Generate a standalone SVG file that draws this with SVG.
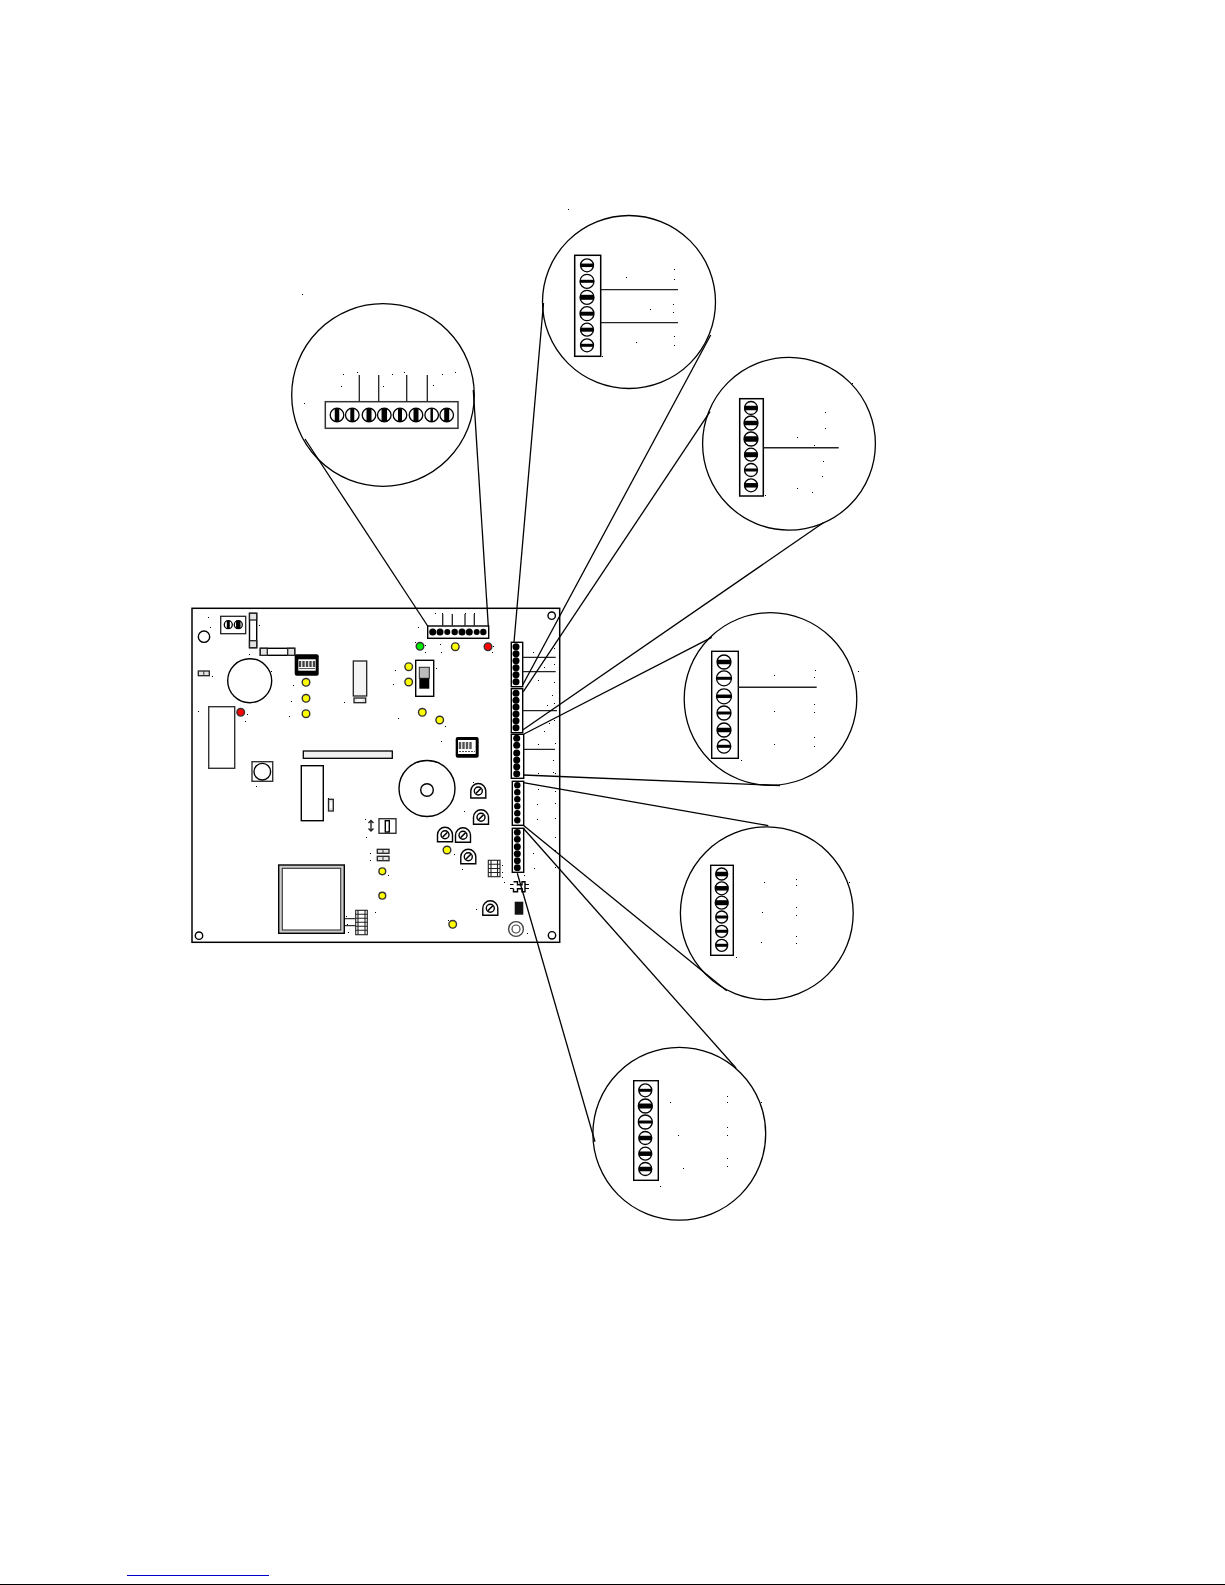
<svg xmlns="http://www.w3.org/2000/svg" width="1225" height="1585" viewBox="0 0 1225 1585">
<style>
.o{fill:none;stroke:#000;stroke-width:1.4}
.w{fill:#fff;stroke:#000;stroke-width:1.4}
.g{fill:#e4e4e4;stroke:#222;stroke-width:1.3}
.c{fill:none;stroke:#000;stroke-width:1.3}
.wire{fill:none;stroke:#222;stroke-width:1.3}
.con{fill:none;stroke:#000;stroke-width:1.3}
.sc{fill:#fff;stroke:#000;stroke-width:1.3}
.bar{stroke:#000;fill:none}
.d{fill:#000}
.y{fill:#ff0;stroke:#333;stroke-width:1.4}
.r{fill:#f00;stroke:#333;stroke-width:1.4}
.gr{fill:#0e0;stroke:#333;stroke-width:1.4}
.slash{stroke:#000;stroke-width:1.6;fill:none}
.grid{fill:none;stroke:#222;stroke-width:1.1}
</style>
<defs>
<g id="pot"><path class="w" d="M-7.5 7V0A7.5 7.5 0 0 1 7.5 0V7Z"/><circle class="o" r="4"/><path class="slash" d="M-2.5 2.5L2.5-2.5"/></g>
</defs>
<g id="board">
<rect class="o" x="192" y="608.300" width="367.700" height="334" style="stroke-width:1.500"/>
<circle class="o" cx="204" cy="636.700" r="5.700"/>
<circle class="o" cx="551.700" cy="615.700" r="3.700"/>
<circle class="o" cx="199" cy="935.700" r="3.700"/>
<circle class="o" cx="552" cy="935.300" r="3.700"/>
</g>
<g id="power-terminal">
<rect class="g" x="220.700" y="616.300" width="25" height="17.400" style="fill:#fff"/>
<circle class="sc" cx="228.300" cy="624.700" r="4"/><path class="bar" stroke-width="3" d="M228.300 620.700v8"/>
<circle class="sc" cx="238.300" cy="624.700" r="4"/><path class="bar" stroke-width="4.500" d="M238.300 620.700v8"/>
</g>
<g id="fuse-vertical">
<rect class="w" x="249.500" y="613.300" width="7.200" height="34.400"/>
<rect class="g" x="249.500" y="613.300" width="7.200" height="6.700"/>
<rect class="g" x="249.500" y="640.700" width="7.200" height="7"/>
</g>
<g id="fuse-horizontal">
<rect class="w" x="260.300" y="648.300" width="34.400" height="7"/>
<rect class="g" x="260.300" y="648.300" width="7" height="7"/>
<rect class="g" x="287.700" y="648.300" width="7" height="7"/>
</g>
<g id="dip-a">
<rect x="294.700" y="654.300" width="24" height="21.400" rx="2" fill="#000"/>
<rect x="298.300" y="659.300" width="17.400" height="11.400" fill="#fff"/>
<path d="M300 661v6M303.500 661v6M307 661v6M310.500 661v6M314 661v6" stroke="#444" stroke-width="2.400" fill="none"/>
<path d="M299 668.500h16" stroke="#555" stroke-width="1" fill="none"/>
</g>
<g id="capacitor"><circle class="o" cx="249.700" cy="680.700" r="22"/></g>
<g id="small-part-a"><rect class="g" x="198.300" y="671" width="11" height="4.700"/><path d="M203.800 671v4.700" stroke="#333" fill="none"/></g>
<g id="leds">
<circle class="y" cx="306" cy="682.300" r="3.800"/>
<circle class="y" cx="306" cy="698.300" r="3.800"/>
<circle class="y" cx="306" cy="713.700" r="3.800"/>
<circle class="r" cx="240.700" cy="712.300" r="3.800"/>
<circle class="gr" cx="420" cy="646.300" r="3.800"/>
<circle class="y" cx="455.300" cy="646.700" r="3.800"/>
<circle class="r" cx="488" cy="646.700" r="3.800"/>
<circle class="y" cx="408.700" cy="666.700" r="3.800"/>
<circle class="y" cx="408.700" cy="682" r="3.800"/>
<circle class="y" cx="422.300" cy="712.300" r="3.800"/>
<circle class="y" cx="439.700" cy="720" r="3.800"/>
<circle class="y" cx="382.300" cy="871.300" r="3.400"/>
<circle class="y" cx="382.300" cy="895.700" r="3.400"/>
<circle class="y" cx="447" cy="850" r="3.800"/>
<circle class="y" cx="452.700" cy="924.300" r="3.800"/>
</g>
<g id="chip-left"><rect class="o" x="208.700" y="706.700" width="26" height="61.600" style="stroke:#333"/></g>
<g id="relay">
<rect class="g" x="353.300" y="661" width="13.400" height="35" style="fill:#f4f4f4"/>
<rect class="g" x="354" y="698" width="11.700" height="4.700"/>
<rect x="356.500" y="699.300" width="6" height="2" fill="#fff"/>
</g>
<g id="header-bar"><rect class="g" x="303.300" y="751" width="89" height="7.300" style="stroke:#000;fill:#f0f0f0"/></g>
<g id="button">
<rect class="w" x="252" y="761.700" width="20.700" height="19.600" style="stroke:#333"/>
<circle class="o" cx="262.300" cy="771.700" r="8.300"/>
</g>
<g id="chip-center"><rect class="o" x="301.300" y="765.700" width="22" height="55"/></g>
<g id="small-part-b"><rect class="g" x="328.500" y="799.300" width="4.800" height="11.700"/><rect x="330" y="802" width="2" height="6" fill="#fff"/></g>
<g id="transformer">
<rect x="278.700" y="865" width="65.600" height="68.300" fill="#ccc" stroke="#000" stroke-width="1.400"/>
<rect x="282.300" y="868.300" width="58.400" height="61.700" fill="#fff" stroke="#333" stroke-width="1.100"/>
</g>
<g id="comb-a">
<path d="M345 918.700h10.700M345 925.700h10.700" stroke="#000" fill="none"/>
<rect class="grid" x="355.700" y="910.300" width="11.600" height="24.400"/>
<path class="grid" d="M358 910.300v24.400M365 910.300v24.400M355.700 914.300h11.600M355.700 918.300h11.600M355.700 922.300h11.600M355.700 926.300h11.600M355.700 930.300h11.600"/>
</g>
<g id="slide-switch">
<rect class="w" x="415.700" y="660.300" width="18" height="36"/>
<rect x="419.300" y="667.300" width="10" height="11" fill="#bbb" stroke="#222"/>
<rect x="419.300" y="678.300" width="10" height="10.400" fill="#000"/>
</g>
<g id="dip-b">
<rect x="455.700" y="737" width="23" height="20.700" rx="2" fill="#000"/>
<rect x="458" y="740" width="17.700" height="14" fill="#fff"/>
<path d="M460 742v7M463.500 742v7M467 742v7M470.500 742v7" stroke="#555" stroke-width="2.400" fill="none"/>
<path d="M459 751.500h16" stroke="#555" stroke-width="1" stroke-dasharray="2 1" fill="none"/>
</g>
<g id="toroid">
<circle class="o" cx="427" cy="788.500" r="28"/>
<circle class="o" cx="427" cy="790" r="6.300"/>
</g>
<g id="trimpots">
<use href="#pot" x="478.300" y="791"/>
<use href="#pot" x="481" y="817.300"/>
<use href="#pot" x="445" y="834.700"/>
<use href="#pot" x="463" y="835.300"/>
<use href="#pot" x="468.300" y="856.700"/>
<use href="#pot" x="490.300" y="908.300"/>
</g>
<g id="arrow-switch">
<path d="M371 820.500v10.500M368.500 823l2.500-2.500 2.500 2.500M368.500 828.500l2.500 2.500 2.500-2.500" fill="none" stroke="#222" stroke-width="1.400"/>
<rect class="w" x="379" y="818.700" width="17" height="14.600" style="stroke:#333"/>
<rect class="o" x="385.300" y="820.700" width="4" height="11.300"/>
</g>
<g id="jumpers">
<rect class="g" x="377.300" y="849.300" width="11.700" height="4"/>
<rect class="g" x="377.300" y="856.300" width="11.700" height="4.400"/>
<path d="M383 849.300v4M383 856.300v4.400" stroke="#333" fill="none"/>
</g>
<g id="comb-b">
<rect class="grid" x="488.300" y="860.300" width="11.700" height="16.400"/>
<path class="grid" d="M491 860.300v16.400M497.500 860.300v16.400M488.300 864.300h11.700M488.300 868.500h11.700M488.300 872.500h11.700"/>
</g>
<g id="ic">
<path class="o" d="M513.500 881.700h4v3h4.500v-3h3v10h-3v-3h-4.500v3h-4v-3"/>
<path d="M510 884.500h3.500M510 888.500h3.500M525 884.500h4M525 888.500h4" stroke="#000" fill="none"/>
</g>
<g id="black-part"><rect x="514.700" y="901.700" width="8.600" height="13" fill="#111"/></g>
<g id="ring">
<circle cx="516" cy="929" r="7.400" fill="#fff" stroke="#444" stroke-width="1.400"/>
<circle cx="516" cy="929" r="4" fill="#fff" stroke="#444" stroke-width="1.200"/>
</g>
<g id="board-terminals">
<rect class="w" x="427.700" y="626" width="61" height="12.300"/>
<rect class="w" x="511.300" y="642.300" width="11.400" height="44.400"/>
<rect class="w" x="511.300" y="688.700" width="11.400" height="44"/>
<rect class="w" x="511.300" y="734.300" width="12.400" height="44"/>
<rect class="w" x="512.300" y="781.300" width="11.400" height="44"/>
<rect class="w" x="512.300" y="828.300" width="11.400" height="44"/>
<g class="d">
<circle cx="432.700" cy="632" r="3.500"/><circle cx="440" cy="632" r="3.500"/><circle cx="447.300" cy="632" r="3"/><circle cx="454.700" cy="632" r="3.200"/><circle cx="462" cy="632" r="3.500"/><circle cx="469.300" cy="632" r="3.500"/><circle cx="476.700" cy="632" r="3"/><circle cx="483.300" cy="632" r="3.200"/>
<circle cx="516" cy="646.700" r="3.500"/><circle cx="516" cy="653.700" r="3.500"/><circle cx="516" cy="660.700" r="3.500"/><circle cx="516" cy="667.700" r="3.500"/><circle cx="516" cy="674.700" r="3.500"/><circle cx="516" cy="681.700" r="3.500"/>
<circle cx="516" cy="693.300" r="3.500"/><circle cx="516" cy="700.200" r="3.500"/><circle cx="516" cy="707" r="3.500"/><circle cx="516" cy="714" r="3.500"/><circle cx="516" cy="720.700" r="3.500"/><circle cx="516" cy="727.700" r="3.500"/>
<circle cx="516.700" cy="738.300" r="3.500"/><circle cx="516.700" cy="745.300" r="3.500"/><circle cx="516.700" cy="753" r="3.500"/><circle cx="516.700" cy="760" r="3.500"/><circle cx="516.700" cy="766.700" r="3.500"/><circle cx="516.700" cy="773.700" r="3.500"/>
<circle cx="517.300" cy="785.300" r="3.200"/><circle cx="517.300" cy="792.300" r="3.200"/><circle cx="517.300" cy="799.300" r="3.200"/><circle cx="517.300" cy="806.300" r="3.200"/><circle cx="517.300" cy="813.300" r="3.200"/><circle cx="517.300" cy="820.300" r="3.200"/>
<circle cx="517.300" cy="832.300" r="3.400"/><circle cx="517.300" cy="839.300" r="3.400"/><circle cx="517.300" cy="846.700" r="3.500"/><circle cx="517.300" cy="853.700" r="3.500"/><circle cx="517.300" cy="860.700" r="3.400"/><circle cx="517.300" cy="867.700" r="3.400"/>
</g>
</g>
<g id="callout-a">
<circle class="c" cx="383" cy="395" r="91.300"/>
<rect class="w" x="325.300" y="401.700" width="132.700" height="26.600" style="stroke:#333;stroke-width:1.500"/>
<circle class="sc" cx="337" cy="415" r="6.800"/><path class="bar" stroke-width="4.500" d="M337 408.200v13.600"/>
<circle class="sc" cx="352.300" cy="415" r="6.800"/><path class="bar" stroke-width="4" d="M352.300 408.200v13.600"/>
<circle class="sc" cx="369" cy="415" r="6.800"/><path class="bar" stroke-width="5" d="M369 408.200v13.600"/>
<circle class="sc" cx="384.300" cy="415" r="6.800"/><path class="bar" stroke-width="5.500" d="M384.300 408.200v13.600"/>
<circle class="sc" cx="400" cy="415" r="6.800"/><path class="bar" stroke-width="4" d="M400 408.200v13.600"/>
<circle class="sc" cx="416" cy="415" r="6.800"/><path class="bar" stroke-width="5" d="M416 408.200v13.600"/>
<circle class="sc" cx="431.700" cy="415" r="6.800"/><path class="bar" stroke-width="2.500" d="M431.700 408.200v13.600"/>
<circle class="sc" cx="446.700" cy="415" r="6.800"/><path class="bar" stroke-width="5" d="M446.700 408.200v13.600"/>
</g>
<g id="callout-b">
<circle class="c" cx="629" cy="302" r="86.500"/>
<rect class="w" x="574.700" y="255.300" width="26" height="101" style="stroke-width:1.500"/>
<circle class="sc" cx="587" cy="265.300" r="6.500"/><path class="bar" stroke-width="3.500" d="M580.500 265.300h13"/>
<circle class="sc" cx="587" cy="281.300" r="7"/><path class="bar" stroke-width="3" d="M580 281.300h14"/>
<circle class="sc" cx="587" cy="297.300" r="7"/><path class="bar" stroke-width="5" d="M580 297.300h14"/>
<circle class="sc" cx="587" cy="313.700" r="7"/><path class="bar" stroke-width="4" d="M580 313.700h14"/>
<circle class="sc" cx="587" cy="329.700" r="6.500"/><path class="bar" stroke-width="4" d="M580.500 329.700h13"/>
<circle class="sc" cx="587" cy="345.300" r="6.500"/><path class="bar" stroke-width="3" d="M580.500 345.300h13"/>
</g>
<g id="callout-c">
<circle class="c" cx="789" cy="443.700" r="86.400"/>
<rect class="w" x="739.700" y="398.700" width="23.600" height="97.300" style="stroke-width:1.500"/>
<circle class="sc" cx="751" cy="408" r="6.500"/><path class="bar" stroke-width="4.500" d="M744.500 408h13"/>
<circle class="sc" cx="751" cy="423" r="7"/><path class="bar" stroke-width="4.500" d="M744 423h14"/>
<circle class="sc" cx="751" cy="439" r="7"/><path class="bar" stroke-width="5.500" d="M744 439h14"/>
<circle class="sc" cx="751" cy="454.700" r="6.500"/><path class="bar" stroke-width="5" d="M744.500 454.700h13"/>
<circle class="sc" cx="751" cy="470" r="6.500"/><path class="bar" stroke-width="3" d="M744.500 470h13"/>
<circle class="sc" cx="751" cy="485.300" r="6.500"/><path class="bar" stroke-width="4.500" d="M744.500 485.300h13"/>
</g>
<g id="callout-d">
<circle class="c" cx="770.500" cy="699" r="86.300"/>
<rect class="w" x="711.700" y="651.300" width="26.600" height="107"/>
<circle class="sc" cx="724" cy="662" r="7"/><path class="bar" stroke-width="4.500" d="M717 662h14"/>
<circle class="sc" cx="724" cy="678.300" r="7.500"/><path class="bar" stroke-width="3" d="M716.500 678.300h15"/>
<circle class="sc" cx="724" cy="696.300" r="7.500"/><path class="bar" stroke-width="3.500" d="M716.500 696.300h15"/>
<circle class="sc" cx="724" cy="713" r="7"/><path class="bar" stroke-width="3" d="M717 713h14"/>
<circle class="sc" cx="724" cy="730" r="7"/><path class="bar" stroke-width="4.500" d="M717 730h14"/>
<circle class="sc" cx="724" cy="746.300" r="6.800"/><path class="bar" stroke-width="3" d="M717 746.300h14"/>
</g>
<g id="callout-e">
<circle class="c" cx="766.800" cy="913.300" r="86.400"/>
<rect class="w" x="710.700" y="865.300" width="22.600" height="90"/>
<circle class="sc" cx="721.700" cy="874" r="6"/><path class="bar" stroke-width="4.500" d="M715.700 874h12"/>
<circle class="sc" cx="721.700" cy="888.300" r="6.500"/><path class="bar" stroke-width="4.500" d="M715.200 888.300h13"/>
<circle class="sc" cx="721.700" cy="902.700" r="6.500"/><path class="bar" stroke-width="5" d="M715.200 902.700h13"/>
<circle class="sc" cx="721.700" cy="917" r="6"/><path class="bar" stroke-width="3" d="M715.700 917h12"/>
<circle class="sc" cx="721.700" cy="931.300" r="6"/><path class="bar" stroke-width="3" d="M715.700 931.300h12"/>
<circle class="sc" cx="721.700" cy="945.300" r="6"/><path class="bar" stroke-width="3" d="M715.700 945.300h12"/>
</g>
<g id="callout-f">
<circle class="c" cx="679.300" cy="1133.800" r="86.400"/>
<rect class="w" x="633.700" y="1080.700" width="24.600" height="99.600"/>
<circle class="sc" cx="645.300" cy="1090.300" r="6.500"/><path class="bar" stroke-width="3" d="M638.800 1090.300h13"/>
<circle class="sc" cx="645.300" cy="1106" r="7"/><path class="bar" stroke-width="5" d="M638.300 1106h14"/>
<circle class="sc" cx="645.300" cy="1122" r="7"/><path class="bar" stroke-width="3" d="M638.300 1122h14"/>
<circle class="sc" cx="645.300" cy="1138" r="6.500"/><path class="bar" stroke-width="4.500" d="M638.800 1138h13"/>
<circle class="sc" cx="645.300" cy="1153.700" r="6.500"/><path class="bar" stroke-width="4.500" d="M638.800 1153.700h13"/>
<circle class="sc" cx="645.300" cy="1169" r="6.500"/><path class="bar" stroke-width="4.500" d="M638.800 1169h13"/>
</g>
<g id="wires">
<path class="wire" d="M359.300 375v26.700M378.700 375v26.700M406.700 375v26.700M427.300 375v26.700"/>
<path class="wire" d="M600.700 289.700H678M600.700 322.700H678"/>
<path class="wire" style="stroke-width:1.500" d="M763.300 447.700H838.700"/>
<path class="wire" style="stroke-width:1.400" d="M738 687.300H816.700"/>
<path class="wire" d="M442.700 614v12M452.300 614v12M465 614v12M474.300 614v12"/>
<path class="wire" d="M522.700 657.300H555.700M522.700 671.700H555.700M522.700 710.700H557M523.700 749.300H555"/>
</g>
<g id="connectors">
<path class="con" d="M305 439L427.700 626"/>
<path class="con" d="M473.300 390L488.300 626"/>
<path class="con" d="M543.500 303L514 642.300"/>
<path class="con" d="M710.700 335L522.700 685"/>
<path class="con" d="M710 411.700L523.300 691.700"/>
<path class="con" d="M823.300 522.700L522.700 730"/>
<path class="con" d="M711.700 637.300L524 734"/>
<path class="con" d="M523.300 775L780 785.500"/>
<path class="con" d="M523.300 782.700L768.300 825.600"/>
<path class="con" d="M523.300 825.300L726.700 990.700"/>
<path class="con" d="M523.300 828.300L736 1068"/>
<path class="con" d="M517.300 873.300L595 1141.700"/>
</g>
<path id="specks" transform="translate(0 .5)" stroke="#000" stroke-width="1" fill="none" d="M208 617h1M210 627h1M259 625h1M249 654h1M271 671h1M212 676h1M293 685h1M291 701h1M344 702h1M198 711h1M247 714h1M289 716h1M245 721h1M256 786h1M435 613h1M442 613h1M465 613h1M474 613h1M418 627h1M440 644h1M493 646h1M441 652h1M492 652h1M533 652h1M554 648h1M544 667h1M554 664h1M436 668h1M395 670h1M393 684h1M554 682h1M538 680h1M552 695h1M547 705h1M554 703h1M398 718h1M445 726h1M549 723h1M554 720h1M544 731h1M441 741h1M538 744h1M555 743h1M553 760h1M553 772h1M538 773h1M473 782h1M464 811h1M555 773h1M538 789h1M555 791h1M537 804h1M555 803h1M537 819h1M555 818h1M555 837h1M533 853h1M555 850h1M534 868h1M555 867h1M524 875h1M502 865h1M502 872h1M502 877h1M504 882h1M454 854h1M462 869h1M388 875h1M375 912h1M476 909h1M448 920h1M527 933h1M365 819h1M366 837h1M370 853h1M370 860h1M328 798h1M346 916h1M347 924h1M348 932h1M415 642h1M425 645h1M425 652h1M302 294h1M343 374h1M357 372h1M392 374h1M404 372h1M442 374h1M455 372h1M341 386h1M383 386h1M433 385h1M304 403h1M568 209h1M674 269h1M674 279h1M626 277h1M650 309h1M673 304h1M673 312h1M674 336h1M674 345h1M636 342h1M602 356h1M825 412h1M825 428h1M797 437h1M814 445h1M823 461h1M822 476h1M797 488h1M812 492h1M765 495h1M852 383h1M815 670h1M814 677h1M774 675h1M858 671h1M814 704h1M814 712h1M774 711h1M814 737h1M814 746h1M774 744h1M741 760h1M764 882h1M796 879h1M796 885h1M849 882h1M762 912h1M796 907h1M796 915h1M761 942h1M796 936h1M796 943h1M736 957h1M670 1102h1M727 1096h1M727 1102h1M761 1102h1M678 1135h1M727 1127h1M727 1135h1M683 1168h1M727 1158h1M727 1166h1M660 1186h1"/>
<g id="footer">
<path d="M127 1575.500H269" stroke="#0000cc" stroke-width="1" fill="none"/>
<path d="M0 1584.500H1225" stroke="#000" stroke-width="1" fill="none"/>
</g>
</svg>
